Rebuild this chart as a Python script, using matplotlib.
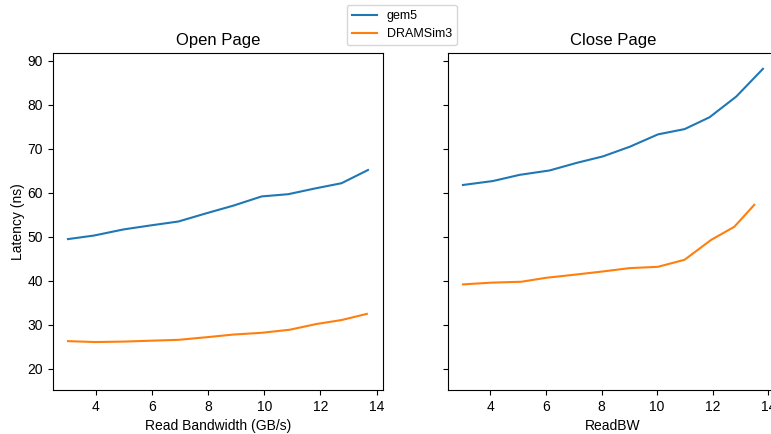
import matplotlib.pyplot as plt

plt.rcParams['font.family'] = ['Liberation Sans', 'DejaVu Sans']

# Open page policy
open_bw_gem5 = [3.02, 3.94, 5.00, 5.95, 6.95, 7.96, 8.90, 9.91, 10.85, 11.80, 12.75, 13.69]
open_lat_gem5 = [49.5, 50.3, 51.7, 52.6, 53.5, 55.4, 57.1, 59.2, 59.7, 61.0, 62.2, 65.2]
open_bw_dramsim = [3.02, 4.00, 5.00, 5.95, 6.95, 7.96, 8.90, 9.91, 10.91, 11.86, 12.75, 13.65]
open_lat_dramsim = [26.3, 26.1, 26.2, 26.4, 26.6, 27.2, 27.8, 28.2, 28.9, 30.2, 31.1, 32.5]

# Close page policy
close_bw_gem5 = [3.01, 4.09, 5.05, 6.13, 7.09, 8.05, 9.02, 10.03, 10.99, 11.89, 12.85, 13.81]
close_lat_gem5 = [61.8, 62.7, 64.1, 65.1, 66.8, 68.3, 70.5, 73.3, 74.5, 77.2, 81.9, 88.2]
close_bw_dramsim = [3.01, 4.03, 5.11, 6.00, 7.02, 7.99, 9.01, 10.03, 10.99, 11.94, 12.78, 13.50]
close_lat_dramsim = [39.2, 39.6, 39.8, 40.7, 41.4, 42.1, 42.9, 43.2, 44.8, 49.3, 52.3, 57.3]

fig = plt.figure(figsize=(7.71, 4.34), dpi=100)
ax1 = fig.add_axes([0.0687, 0.1014, 0.428, 0.7765])
ax2 = fig.add_axes([0.581, 0.1014, 0.428, 0.7765], sharey=ax1)

ax1.plot(open_bw_gem5, open_lat_gem5, label='gem5')
ax1.plot(open_bw_dramsim, open_lat_dramsim, label='DRAMSim3')
ax1.set_title('Open Page')
ax1.set_xlabel('Read Bandwidth (GB/s)')
ax1.set_ylabel('Latency (ns)', labelpad=2)

ax2.plot(close_bw_gem5, close_lat_gem5)
ax2.plot(close_bw_dramsim, close_lat_dramsim)
ax2.set_title('Close Page')
ax2.set_xlabel('ReadBW')
ax2.tick_params(labelleft=False)

ax1.set_ylim(15.2, 91.8)
ax1.set_xticks([4, 6, 8, 10, 12, 14])
ax2.set_xticks([4, 6, 8, 10, 12, 14])

fig.legend(loc='upper center', bbox_to_anchor=(0.521, 1.003), fontsize=9)

plt.savefig('out.png', dpi=100)
